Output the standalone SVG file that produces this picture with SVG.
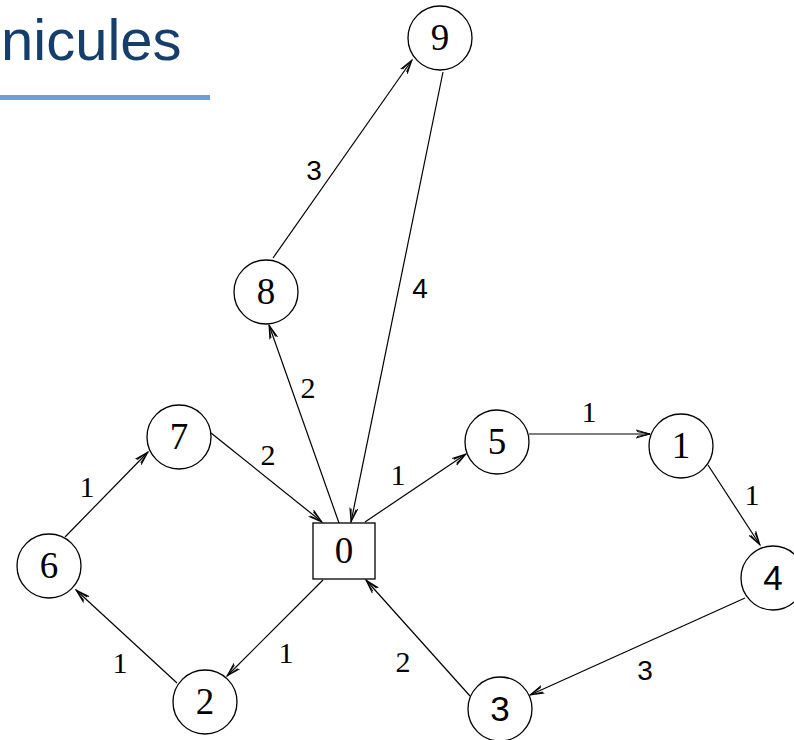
<svg xmlns="http://www.w3.org/2000/svg" width="794" height="740" viewBox="0 0 794 740">
<defs>
<marker id="arr" markerUnits="userSpaceOnUse" markerWidth="16" markerHeight="12" refX="14" refY="5" orient="auto" viewBox="0 0 16 10">
<path d="M0,1 L14,5 L0,9 M1,2.5 L14,5 L1,7.5" fill="none" stroke="#000" stroke-width="1"/>
</marker>
<style>
.n{fill:#fff;stroke:#000;stroke-width:1.3}
.e{stroke:#000;stroke-width:1.2;fill:none;marker-end:url(#arr)}
.t{font-family:"Liberation Serif","Times New Roman",serif;font-size:37px;text-anchor:middle;fill:#000}
.ts{font-family:"Liberation Sans",Arial,sans-serif;font-size:35px;text-anchor:middle;fill:#000}
.l{font-family:"Liberation Serif","Times New Roman",serif;font-size:30px;text-anchor:middle;fill:#000}
.ls{font-family:"Liberation Sans",Arial,sans-serif;font-size:28px;text-anchor:middle;fill:#000}
</style>
</defs>
<rect width="794" height="740" fill="#fff"/>
<g id="title">
<text x="1" y="60" font-family="'Liberation Sans',Arial,sans-serif" font-size="58" fill="#153f6a">nicules</text>
<rect x="0" y="95" width="210" height="5" fill="#6f9bd8"/>
</g>
<g id="connectors">
<line class="e" x1="273" y1="258" x2="412" y2="60"/>
<line class="e" x1="443" y1="72" x2="351" y2="522"/>
<line class="e" x1="339" y1="523" x2="269" y2="325"/>
<line class="e" x1="211" y1="433" x2="322" y2="522"/>
<line class="e" x1="65" y1="537" x2="148" y2="452"/>
<line class="e" x1="365" y1="522" x2="466" y2="454"/>
<line class="e" x1="529" y1="434" x2="650" y2="434"/>
<line class="e" x1="708" y1="465" x2="760" y2="545"/>
<line class="e" x1="745" y1="598" x2="530" y2="695"/>
<line class="e" x1="470" y1="696" x2="366" y2="580"/>
<line class="e" x1="323" y1="580" x2="227" y2="676"/>
<line class="e" x1="177" y1="683" x2="76" y2="590"/>
<text class="ls" x="314" y="180">3</text>
<text class="ls" x="420" y="298">4</text>
<text class="l" x="308" y="398">2</text>
<text class="l" x="268" y="465">2</text>
<text class="l" x="398" y="485">1</text>
<text class="l" x="589" y="422">1</text>
<text class="l" x="752" y="505">1</text>
<text class="ls" x="645" y="680">3</text>
<text class="l" x="403" y="672">2</text>
<text class="l" x="286" y="663">1</text>
<text class="l" x="120" y="673">1</text>
<text class="l" x="87" y="497">1</text>
</g>
<g id="node0"><rect class="n" x="313" y="523" width="62" height="56"/><text class="t" x="344" y="563">0</text></g>
<g id="node1"><circle class="n" cx="681" cy="446" r="32"/><text class="t" x="681" y="458">1</text></g>
<g id="node2"><circle class="n" cx="205" cy="702" r="32"/><text class="t" x="205" y="714">2</text></g>
<g id="node3"><circle class="n" cx="500" cy="709" r="32"/><text class="ts" x="500" y="721">3</text></g>
<g id="node4"><circle class="n" cx="773" cy="578" r="32"/><text class="ts" x="773" y="590">4</text></g>
<g id="node5"><circle class="n" cx="497" cy="442" r="32"/><text class="t" x="497" y="454">5</text></g>
<g id="node6"><circle class="n" cx="49" cy="566" r="32"/><text class="t" x="49" y="578">6</text></g>
<g id="node7"><circle class="n" cx="179" cy="437" r="32"/><text class="t" x="179" y="449">7</text></g>
<g id="node8"><circle class="n" cx="266" cy="292" r="32"/><text class="t" x="266" y="304">8</text></g>
<g id="node9"><circle class="n" cx="440" cy="38" r="32"/><text class="t" x="440" y="50">9</text></g>
</svg>
